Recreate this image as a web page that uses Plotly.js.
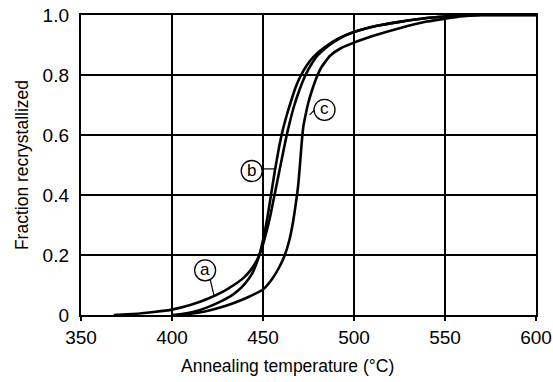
<!DOCTYPE html>
<html>
<head>
<meta charset="utf-8">
<script src="https://cdn.plot.ly/plotly-3.0.1.min.js"></script>
<style>html,body{margin:0;padding:0;background:#fff;}#chart{width:553px;height:382px;}</style>
</head>
<body>
<div id="chart"></div>
<script>
// Curve (a)
const tempA = [368, 375, 382, 390, 400, 410, 420, 428, 434, 439, 443, 446, 448, 450, 452, 454, 456, 458, 460, 462, 464, 467, 470, 473, 476, 480, 486, 493, 500, 512, 525, 540, 550, 560, 570, 600];
const fracA = [0, 0.002, 0.005, 0.01, 0.018, 0.033, 0.055, 0.078, 0.1, 0.122, 0.148, 0.175, 0.2, 0.235, 0.28, 0.33, 0.39, 0.45, 0.51, 0.57, 0.625, 0.695, 0.75, 0.795, 0.83, 0.865, 0.898, 0.925, 0.943, 0.963, 0.977, 0.99, 0.995, 0.999, 1.0, 1.0];
// Curve (b)
const tempB = [400, 408, 415, 420, 426, 432, 436, 440, 444, 446, 448, 450, 452, 454, 456.5, 459, 461, 463, 465, 468, 470.5, 474, 478, 484, 491, 500, 512, 525, 540, 550, 560, 570, 600];
const fracB = [0, 0.006, 0.016, 0.027, 0.043, 0.062, 0.08, 0.104, 0.138, 0.165, 0.2, 0.25, 0.31, 0.385, 0.48, 0.565, 0.62, 0.665, 0.705, 0.76, 0.795, 0.832, 0.862, 0.893, 0.92, 0.943, 0.963, 0.977, 0.99, 0.995, 0.999, 1.0, 1.0];
// Curve (c)
const tempC = [403, 410, 418, 426, 434, 442, 450, 455, 459, 462, 464.5, 466.5, 468, 469.3, 470.3, 471.2, 472.2, 473.5, 475, 477, 479, 482, 487, 493, 500, 512, 525, 540, 550, 560, 570, 600];
const fracC = [0, 0.004, 0.012, 0.024, 0.04, 0.06, 0.085, 0.12, 0.16, 0.2, 0.25, 0.31, 0.37, 0.43, 0.5, 0.57, 0.63, 0.67, 0.71, 0.75, 0.785, 0.825, 0.865, 0.89, 0.908, 0.933, 0.956, 0.978, 0.988, 0.996, 1.0, 1.0];

// Axis ticks
const xTickVals = [350, 400, 450, 500, 550, 600];
const xTickText = ['350', '400', '450', '500', '550', '600'];
const yTickVals = [0, 0.2, 0.4, 0.6, 0.8, 1.0];
const yTickText = ['0', '0.2', '0.4', '0.6', '0.8', '1.0'];

// Curve labels (circled letters) and leader lines
const labelText = ['a', 'b', 'c'];
const labelX = [418.2, 443.8, 483.8];
const labelY = [0.149, 0.48, 0.684];
const leaderX0 = [421.0, 449.3, 478.3];
const leaderY0 = [0.118, 0.487, 0.684];
const leaderX1 = [423.2, 456.6, 475.6];
const leaderY1 = [0.062, 0.487, 0.667];

const lineStyle = {color: '#000', width: 2.6, shape: 'spline', smoothing: 0.5};
const traces = [
  {x: tempA, y: fracA, name: 'a', mode: 'lines', line: lineStyle, hoverinfo: 'skip'},
  {x: tempB, y: fracB, name: 'b', mode: 'lines', line: lineStyle, hoverinfo: 'skip'},
  {x: tempC, y: fracC, name: 'c', mode: 'lines', line: lineStyle, hoverinfo: 'skip'}
];

const FONT = 'Liberation Sans, Arial, sans-serif';
const shapes = [];
const annotations = [];
for (let i = 0; i < labelText.length; i++) {
  shapes.push({type: 'circle', xref: 'x', yref: 'y', xsizemode: 'pixel', ysizemode: 'pixel',
    xanchor: labelX[i], yanchor: labelY[i], x0: -10.5, x1: 10.5, y0: -10.5, y1: 10.5,
    line: {color: '#000', width: 1.3}, fillcolor: '#fff'});
  shapes.push({type: 'line', xref: 'x', yref: 'y', x0: leaderX0[i], y0: leaderY0[i], x1: leaderX1[i], y1: leaderY1[i],
    line: {color: '#000', width: 1.2}});
  annotations.push({x: labelX[i], y: labelY[i], xref: 'x', yref: 'y', text: labelText[i], showarrow: false,
    font: {family: FONT, size: 17, color: '#000'}, yshift: 1});
}
annotations.push({xref: 'paper', yref: 'paper', x: 0.453, y: -0.13, yanchor: 'top', xanchor: 'center',
  text: 'Annealing temperature (°C)', showarrow: false, font: {family: FONT, size: 17.5, color: '#000'}});

const layout = {
  width: 553, height: 382,
  margin: {l: 81, r: 17, t: 15, b: 67},
  paper_bgcolor: '#fff', plot_bgcolor: '#fff',
  showlegend: false,
  font: {family: FONT, color: '#000'},
  xaxis: {
    range: [350, 600], tickvals: xTickVals, ticktext: xTickText,
    showgrid: true, gridcolor: '#000', gridwidth: 1.5,
    showline: true, mirror: true, linecolor: '#000', linewidth: 2.2,
    ticks: 'outside', ticklen: 4, tickwidth: 1.5, tickcolor: '#000',
    tickfont: {family: FONT, size: 19, color: '#000'}, zeroline: false, fixedrange: true
  },
  yaxis: {
    range: [0, 1.0], tickvals: yTickVals, ticktext: yTickText,
    showgrid: true, gridcolor: '#000', gridwidth: 1.5,
    showline: true, mirror: true, linecolor: '#000', linewidth: 2.2,
    ticks: '', ticklabelstandoff: 6,
    tickfont: {family: FONT, size: 19, color: '#000'}, zeroline: false, fixedrange: true,
    title: {text: 'Fraction recrystallized', font: {family: FONT, size: 17.5, color: '#000'}, standoff: 10}
  },
  shapes: shapes,
  annotations: annotations
};

Plotly.newPlot('chart', traces, layout, {displayModeBar: false, staticPlot: true});
</script>
</body>
</html>
